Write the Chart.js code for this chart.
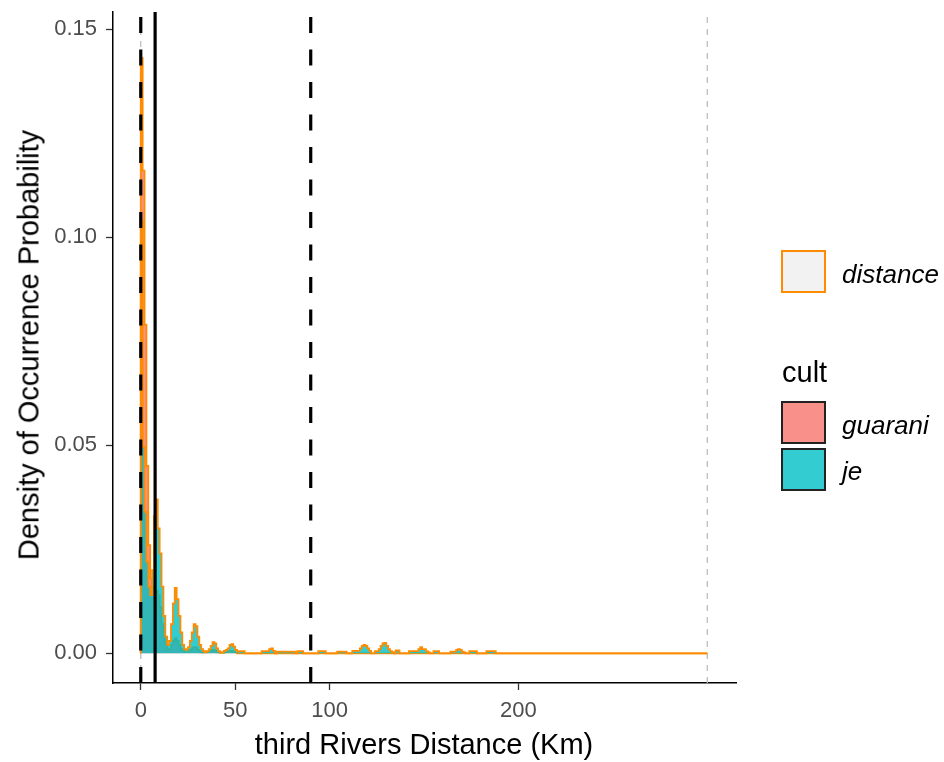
<!DOCTYPE html>
<html>
<head>
<meta charset="utf-8">
<script src="https://cdn.jsdelivr.net/npm/chart.js@4.4.1/dist/chart.umd.min.js"></script>
<style>
  body { margin: 0; background: #fff; }
  #wrap { position: relative; width: 944px; height: 762px; font-family: "Liberation Sans", Arial, sans-serif; }
  #chart { position: absolute; left: 0; top: 0; }
  .lbl { position: absolute; white-space: nowrap; color: #000; line-height: 1; }
  .key { position: absolute; box-sizing: border-box; width: 45px; height: 43px; }
</style>
</head>
<body>
<div id="wrap">
  <canvas id="chart" width="944" height="762"></canvas>
  <div class="lbl" style="font-size:29px; left:29px; top:345px; transform:translate(-50%,-50%) rotate(-90deg);">Density of Occurrence Probability</div>
  <div class="lbl" style="font-size:29px; left:424px; top:744px; transform:translate(-50%,-50%);">third Rivers Distance (Km)</div>

  <div class="key" style="left:781px; top:250px; background:#f2f2f2; border:2px solid #ff8c00;"></div>
  <div class="lbl" style="font-size:26px; font-style:italic; left:842px; top:261px;">distance</div>
  <div class="lbl" style="font-size:29px; left:782px; top:358px;">cult</div>
  <div class="key" style="left:781px; top:401px; background:rgba(248,118,109,0.8); border:2px solid #222;"></div>
  <div class="key" style="left:781px; top:448px; background:rgba(0,191,196,0.8); border:2px solid #222;"></div>
  <div class="lbl" style="font-size:26px; font-style:italic; left:842px; top:412px;">guarani</div>
  <div class="lbl" style="font-size:26px; font-style:italic; left:842px; top:458px;">je</div>
</div>
<script>
const FONT = "'Liberation Sans', Arial, sans-serif";

// axis ticks
const xTicks = [0, 50, 100, 200];
const yTicks = [0, 0.05, 0.10, 0.15];

// 1 km bins, start of bin (km)
const nearKm = [0, 1, 2, 3, 4, 5, 6, 7, 8, 9,
  10, 11, 12, 13, 14, 15, 16, 17, 18, 19,
  20, 21, 22, 23, 24, 25, 26, 27, 28, 29,
  30, 31, 32, 33, 34, 35, 36, 37, 38, 39,
  40, 41, 42, 43, 44, 45, 46, 47, 48, 49,
  50, 51, 52, 53, 54];

const guaraniNear = [0.143, 0.143, 0.116, 0.079, 0.045, 0.026, 0.018, 0.016, 0.015, 0.015,
  0.014, 0.011, 0.007, 0.004, 0.002, 0.001, 0.001, 0.002, 0.003, 0.0036,
  0.003, 0.002, 0.001, 0.0005, 0.0003, 0.0003, 0.0005, 0.0008, 0.0012, 0.0015,
  0.0013, 0.0008, 0.0004, 0.0002, 0.0002, 0.0002, 0.0003, 0.0004, 0.0006, 0.0008,
  0.0007, 0.0003, 0.0002, 0.0001, 0.0001, 0.0002, 0.0003, 0.0004, 0.0005, 0.0006,
  0.0004, 0.0002, 0, 0, 0];

const jeNear = [0.104, 0.104, 0.0496, 0.034, 0.022, 0.016, 0.014, 0.020, 0.033, 0.037,
  0.030, 0.024, 0.016, 0.009, 0.004, 0.002, 0.003, 0.007, 0.012, 0.0157,
  0.013, 0.009, 0.005, 0.002, 0.001, 0.0008, 0.0015, 0.003, 0.005, 0.007,
  0.0065, 0.004, 0.002, 0.001, 0.0005, 0.0003, 0.0005, 0.001, 0.0018, 0.0027,
  0.0024, 0.0012, 0.0005, 0.0002, 0.0003, 0.0006, 0.0008, 0.0012, 0.002, 0.0022,
  0.0016, 0.0008, 0.0004, 0.0005, 0.0005];

// long tail, irregular steps (km, density)
const jeTailKm = [55, 64, 68, 69, 70, 71, 72, 82, 83, 86,
  94, 98, 104, 109, 112, 116, 117, 118, 119, 120,
  121, 122, 124, 126, 127, 128, 129, 130, 131, 132,
  133, 134, 135, 137, 142, 147, 148, 149, 151, 152,
  153, 155, 158, 164, 167, 168, 169, 170, 171, 172,
  174, 178, 183, 188, 193, 300];
const jeTail = [0.0005, 0, 0.0005, 0.001, 0.0012, 0.0006, 0, 0.0004, 0, 0.0005,
  0, 0.0005, 0, 0.0004, 0, 0.0006, 0.0012, 0.0018, 0.002, 0.0018,
  0.0012, 0.0006, 0, 0.0005, 0.001, 0.0018, 0.0024, 0.0025, 0.0018, 0.001,
  0.0005, 0.0003, 0, 0.0007, 0, 0.0005, 0.001, 0.0015, 0.001, 0.0005,
  0.0003, 0, 0.0005, 0, 0.0004, 0.0008, 0.001, 0.0008, 0.0004, 0.0002,
  0, 0.0005, 0, 0.0005, 0, 0];
const guaraniTailKm = [55, 300];
const guaraniTail = [0, 0];

// reference lines (km)
const dashedLines = [0, 90];
const solidLines = [7.6];
const rangeLines = [0, 300];

const yMin = -0.00714, yMax = 0.1541;

function series(kmA, valA, kmB, valB) {
  const pts = [{ x: kmA[0], y: 0 }];
  kmA.forEach((k, i) => pts.push({ x: k, y: valA[i] }));
  kmB.forEach((k, i) => pts.push({ x: k, y: valB[i] }));
  return pts;
}

function vline(x, color, width, dash, order) {
  return {
    data: [{ x: x, y: yMin }, { x: x, y: yMax }],
    borderColor: color, borderWidth: width, borderDash: dash,
    pointRadius: 0, fill: false, order: order
  };
}

const datasets = [];
dashedLines.forEach(x => datasets.push(vline(x, '#000', 3.2, [16, 16.5], 1)));
solidLines.forEach(x => datasets.push(vline(x, '#000', 3.2, [], 1)));
datasets.push({
  label: 'je',
  data: series(nearKm, jeNear, jeTailKm, jeTail),
  stepped: 'after', borderColor: '#ff8c00', borderWidth: 1.8,
  backgroundColor: 'rgba(0,191,196,0.8)', fill: 'origin', pointRadius: 0, order: 4
});
datasets.push({
  label: 'guarani',
  data: series(nearKm, guaraniNear, guaraniTailKm, guaraniTail),
  stepped: 'after', borderColor: '#ff8c00', borderWidth: 1.8,
  backgroundColor: 'rgba(248,118,109,0.8)', fill: 'origin', pointRadius: 0, order: 5
});
rangeLines.forEach(x => datasets.push(vline(x, '#bdbdbd', 1.3, [6, 6], 6)));

function noPad(s) {
  s.paddingTop = 0; s.paddingBottom = 0; s.paddingLeft = 0; s.paddingRight = 0;
}

new Chart(document.getElementById('chart'), {
  type: 'line',
  data: { datasets: datasets },
  options: {
    responsive: false,
    animation: false,
    events: [],
    layout: { padding: { left: 0, top: 12, right: 208, bottom: 0 } },
    plugins: { legend: { display: false }, tooltip: { enabled: false } },
    scales: {
      x: {
        type: 'linear', min: -14.7, max: 315.2,
        afterBuildTicks: s => { s.ticks = xTicks.map(v => ({ value: v })); },
        afterFit: s => { s.height = 79; noPad(s); },
        ticks: { color: '#4d4d4d', font: { family: FONT, size: 22 }, padding: 8, maxRotation: 0, autoSkip: false,
          callback: v => String(v) },
        grid: { display: true, drawOnChartArea: false, drawTicks: true, tickLength: 7, tickColor: '#333', tickWidth: 1.3 },
        border: { display: true, color: '#000', width: 1.5 }
      },
      y: {
        type: 'linear', min: yMin, max: yMax,
        afterBuildTicks: s => { s.ticks = yTicks.map(v => ({ value: v })); },
        afterFit: s => { s.width = 113; noPad(s); },
        ticks: { color: '#4d4d4d', font: { family: FONT, size: 22 }, padding: 9, autoSkip: false,
          callback: v => v.toFixed(2) },
        grid: { display: true, drawOnChartArea: false, drawTicks: true, tickLength: 7, tickColor: '#333', tickWidth: 1.3 },
        border: { display: true, color: '#000', width: 1.5 }
      }
    }
  }
});
</script>
</body>
</html>
